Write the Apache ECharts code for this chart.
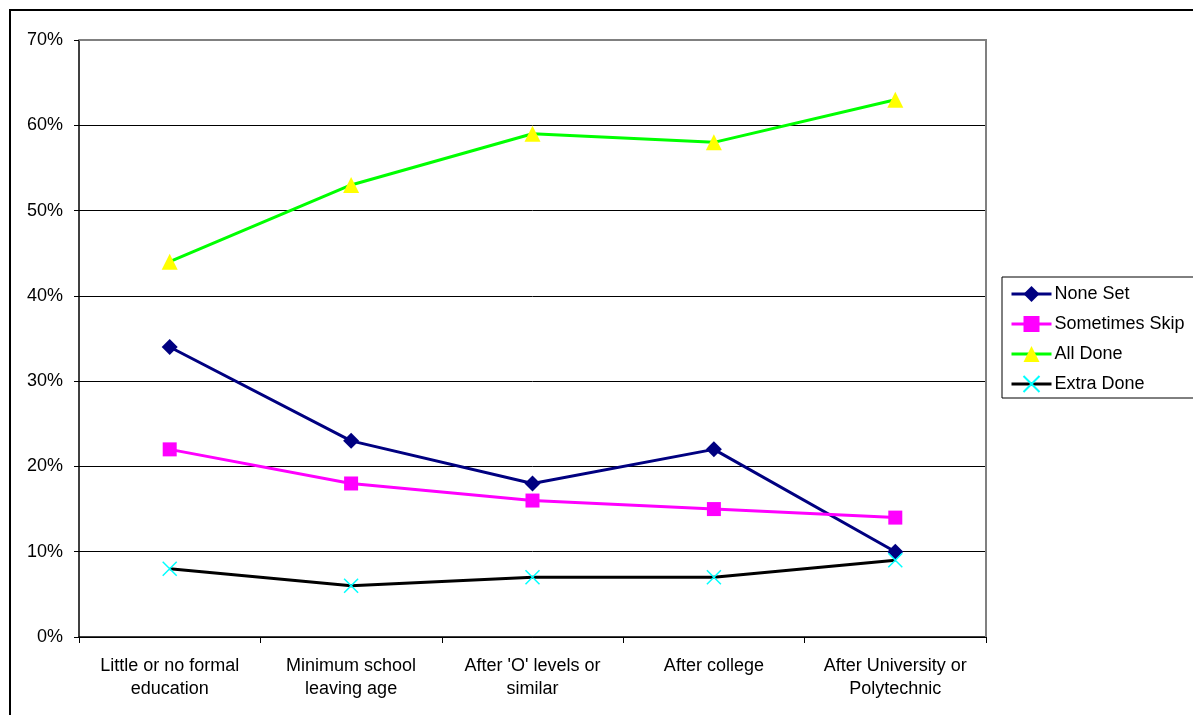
<!DOCTYPE html>
<html>
<head>
<meta charset="utf-8">
<script src="https://cdn.jsdelivr.net/npm/echarts@6/dist/echarts.min.js"></script>
<style>
  html, body { margin: 0; padding: 0; background: #fff; }
  #chart { width: 1193px; height: 715px; }
</style>
</head>
<body>
<div id="chart"></div>
<script>
// Education level categories (x axis)
const categories = [
  "Little or no formal\neducation",
  "Minimum school\nleaving age",
  "After 'O' levels or\nsimilar",
  "After college",
  "After University or\nPolytechnic"
];

// Homework completion shares, in percent
const noneSet       = [34, 23, 18, 22, 10];
const sometimesSkip = [22, 18, 16, 15, 14];
const allDone       = [44, 53, 59, 58, 63];
const extraDone     = [8, 6, 7, 7, 9];

const yTicks = [0, 10, 20, 30, 40, 50, 60, 70];

const FONT = "'Liberation Sans', Arial, sans-serif";

const chart = echarts.init(document.getElementById('chart'), null, { renderer: 'canvas' });

const crossPath = 'path://M0,0L10,10M10,0L0,10';

function lineSeries(name, data, lineColor, symbol, size, fill, stroke) {
  return {
    name: name,
    type: 'line',
    data: data,
    symbol: symbol,
    symbolSize: size,
    showAllSymbol: true,
    lineStyle: { color: lineColor, width: 3 },
    itemStyle: stroke
      ? { color: fill, borderColor: stroke, borderWidth: 1.5 }
      : { color: fill, borderWidth: 0 },
    emphasis: { disabled: true },
    animation: false,
    z: 3
  };
}

chart.setOption({
  animation: false,
  backgroundColor: '#ffffff',
  textStyle: { fontFamily: FONT },
  graphic: [
    {
      type: 'rect',
      shape: { x: 10, y: 10, width: 1300, height: 800 },
      style: { fill: 'none', stroke: '#000', lineWidth: 2 },
      silent: true,
      z: 0
    },
    {
      // plot area frame (top / right)
      type: 'polyline',
      shape: { points: [[79, 40], [986, 40], [986, 637]] },
      style: { fill: 'none', stroke: '#808080', lineWidth: 2 },
      silent: true,
      z: 1
    }
  ],
  grid: { left: 79, right: 207, top: 40, bottom: 78, containLabel: false },
  legend: {
    orient: 'vertical',
    left: 1002,
    top: 277,
    padding: [7, 40, 4, 8],
    itemGap: 10,
    itemWidth: 40,
    itemHeight: 20,
    borderColor: '#000',
    borderWidth: 1,
    backgroundColor: '#fff',
    lineStyle: { width: 3 },
    textStyle: { fontFamily: FONT, fontSize: 18, lineHeight: 20, color: '#000', padding: [0, 0, 0, -2] },
    data: ['None Set', 'Sometimes Skip', 'All Done', 'Extra Done']
  },
  xAxis: {
    type: 'category',
    data: categories,
    boundaryGap: true,
    axisLine: { lineStyle: { color: '#000', width: 1.5 } },
    axisTick: { show: true, length: 6, lineStyle: { color: '#000' } },
    axisLabel: {
      color: '#000', fontFamily: FONT, fontSize: 18, lineHeight: 23,
      margin: 18, interval: 0
    },
    splitLine: { show: false }
  },
  yAxis: {
    type: 'value',
    min: 0,
    max: 70,
    interval: 10,
    axisLine: { show: true, lineStyle: { color: '#000', width: 1.5 } },
    axisTick: { show: true, length: 5, lineStyle: { color: '#000' } },
    axisLabel: {
      color: '#000', fontFamily: FONT, fontSize: 18, margin: 16,
      formatter: v => (yTicks.includes(v) ? v + '%' : '')
    },
    splitLine: { show: true, lineStyle: { color: '#000', width: 1 } }
  },
  series: [
    lineSeries('None Set', noneSet, '#000080', 'diamond', 16, '#000080'),
    lineSeries('Sometimes Skip', sometimesSkip, '#ff00ff', 'rect', 14, '#ff00ff'),
    lineSeries('All Done', allDone, '#00ff00', 'triangle', 16, '#ffff00'),
    lineSeries('Extra Done', extraDone, '#000000', crossPath, 14, '#00ffff', '#00ffff')
  ]
});
</script>
</body>
</html>
